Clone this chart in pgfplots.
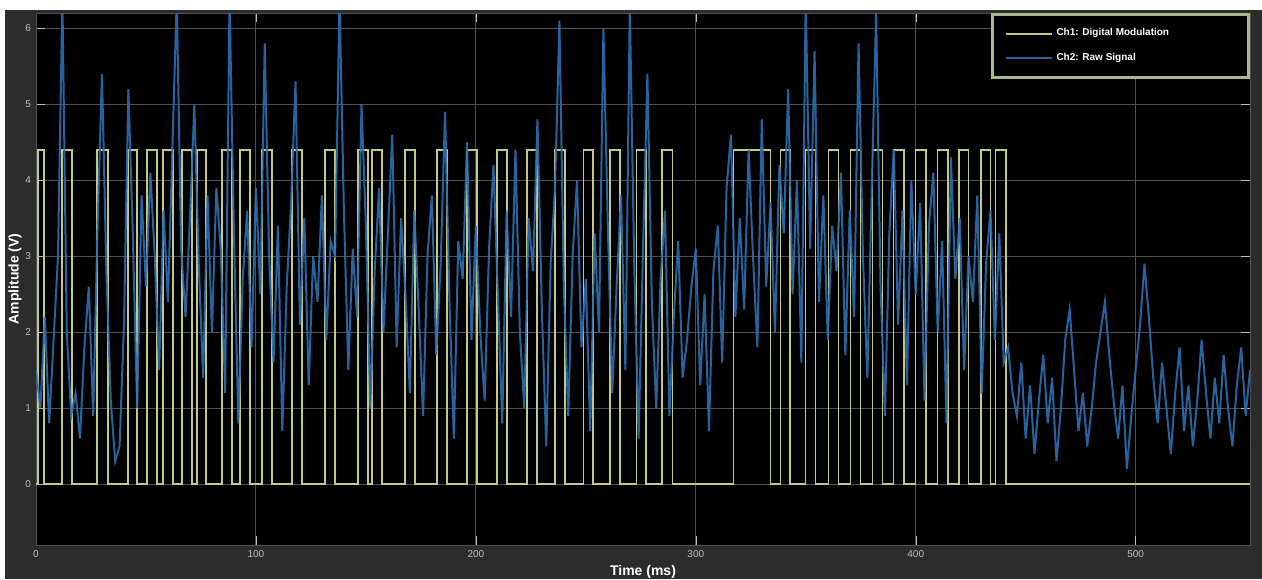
\documentclass[border=0pt]{standalone}
\usepackage{pgfplots}
\pgfplotsset{compat=1.18}
\usepackage{fontspec}
\setmainfont{Liberation Sans}
\definecolor{figbg}{RGB}{44,44,44}
\definecolor{sqc}{RGB}{195,200,135}
\definecolor{bluec}{RGB}{45,110,175}
\definecolor{gridc}{RGB}{80,80,80}
\definecolor{legc}{RGB}{170,185,140}
\definecolor{tickc}{RGB}{190,190,190}
\begin{document}
\begin{tikzpicture}
\useasboundingbox (0,0) rectangle (631pt,289.5pt);
\fill[white] (0,0) rectangle (631pt,289.5pt);
\fill[figbg] (2.5pt,0) rectangle (631pt,284.5pt);
\begin{axis}[
  at={(18pt,17pt)}, anchor=south west,
  width=607pt, height=266pt, scale only axis,
  xmin=0, xmax=552, ymin=-0.8, ymax=6.2,
  xtick={0,100,200,300,400,500}, ytick={0,1,2,3,4,5,6},
  /pgf/number format/assume math mode=true,
  grid=major, major grid style={gridc, line width=0.5pt},
  axis background/.style={fill=black},
  axis line style={gridc},
  tick style={tickc},
  tick label style={font=\tiny, text=tickc},
  xticklabel style={yshift=1pt},
  yticklabel style={xshift=1pt},
  xlabel={Time (ms)}, ylabel={Amplitude (V)},
  every axis x label/.style={at={(axis description cs:0.5,-0.0508)}, anchor=center, font=\scriptsize\bfseries, text=white},
  every axis y label/.style={at={(axis description cs:-0.0173,0.5)}, rotate=90, anchor=center, font=\scriptsize\bfseries, text=white},
  legend style={at={(1,1)}, anchor=north east, fill=black, draw=legc, line width=1.5pt,
    text=white, font=\tiny\bfseries, row sep=3pt, inner ysep=5pt, inner xsep=6pt},
  legend cell align=left,
  legend image code/.code={\draw[#1, line width=1pt] (0cm,0cm) -- (0.8cm,0cm);},
]
\addplot[sqc, line width=0.9pt] coordinates {
(0,0) (0.9,0) (0.9,4.4) (3.6,4.4) (3.6,0)
(11.8,0) (11.8,4.4) (16.4,4.4) (16.4,0)
(27.7,0) (27.7,4.4) (32.8,4.4) (32.8,0)
(41.9,0) (41.9,4.4) (46.0,4.4) (46.0,0)
(50.5,0) (50.5,4.4) (55.0,4.4) (55.0,0)
(57.8,0) (57.8,4.4) (62.3,4.4) (62.3,0)
(66.4,0) (66.4,4.4) (71.0,4.4) (71.0,0)
(73.2,0) (73.2,4.4) (77.3,4.4) (77.3,0)
(84.6,0) (84.6,4.4) (89.2,4.4) (89.2,0)
(92.8,0) (92.8,4.4) (97.4,4.4) (97.4,0)
(102.8,0) (102.8,4.4) (107.4,4.4) (107.4,0)
(116.5,0) (116.5,4.4) (121.0,4.4) (121.0,0)
(131.5,0) (131.5,4.4) (136.0,4.4) (136.0,0)
(146.5,0) (146.5,4.4) (151.0,4.4) (151.0,0)
(152.9,0) (152.9,4.4) (157.4,4.4) (157.4,0)
(167.9,0) (167.9,4.4) (172.4,4.4) (172.4,0)
(182.4,0) (182.4,4.4) (187.0,4.4) (187.0,0)
(196.1,0) (196.1,4.4) (200.6,4.4) (200.6,0)
(209.7,0) (209.7,4.4) (214.3,4.4) (214.3,0)
(223.4,0) (223.4,4.4) (227.9,4.4) (227.9,0)
(236.1,0) (236.1,4.4) (240.7,4.4) (240.7,0)
(248.9,0) (248.9,4.4) (253.4,4.4) (253.4,0)
(261.1,0) (261.1,4.4) (265.7,4.4) (265.7,0)
(273.0,0) (273.0,4.4) (277.5,4.4) (277.5,0)
(284.8,0) (284.8,4.4) (289.4,4.4) (289.4,0)
(317.1,0) (317.1,4.4) (334.0,4.4) (334.0,0)
(338.5,0) (338.5,4.4) (343.0,4.4) (343.0,0)
(349.9,0) (349.9,4.4) (354.4,4.4) (354.4,0)
(360.3,0) (360.3,4.4) (364.9,4.4) (364.9,0)
(370.3,0) (370.3,4.4) (374.9,4.4) (374.9,0)
(380.3,0) (380.3,4.4) (384.9,4.4) (384.9,0)
(389.9,0) (389.9,4.4) (394.5,4.4) (394.5,0)
(399.9,0) (399.9,4.4) (404.5,4.4) (404.5,0)
(409.9,0) (409.9,4.4) (414.5,4.4) (414.5,0)
(419.5,0) (419.5,4.4) (424.0,4.4) (424.0,0)
(429.5,0) (429.5,4.4) (434.0,4.4) (434.0,0)
(436.3,0) (436.3,4.4) (440.9,4.4) (440.9,0)
(552,0)
};
\addlegendentry{\makebox[88pt][l]{Ch1: Digital Modulation}}
\addplot[bluec, line width=1pt, opacity=0.9] coordinates {
(0,1.5) (2,1.0) (4,2.2) (6,0.8) (8,1.9) (10,3.0) (12,6.4) (14,2.0) (16,0.9) (18,1.2)
(20,0.6) (22,1.8) (24,2.6) (26,0.9) (28,3.4) (30,5.4) (32,2.8) (34,1.1) (36,0.3) (38,0.5)
(40,2.1) (42,5.2) (44,3.3) (46,1.0) (48,3.8) (50,2.6) (52,4.1) (54,3.0) (56,1.5) (58,3.6)
(60,2.4) (62,4.4) (64,6.4) (66,3.1) (68,2.2) (70,3.5) (72,5.0) (74,2.9) (76,1.4) (78,3.8)
(80,2.0) (82,3.9) (84,3.1) (86,1.2) (88,6.4) (90,3.3) (92,0.8) (94,2.7) (96,3.6) (98,1.8)
(100,3.9) (102,2.5) (104,5.8) (106,3.0) (108,1.6) (110,3.4) (112,0.7) (114,2.6) (116,3.7) (118,5.3)
(120,2.1) (122,3.5) (124,1.3) (126,3.0) (128,2.4) (130,3.8) (132,1.9) (134,3.2) (136,3.0) (138,6.4)
(140,3.6) (142,1.5) (144,3.1) (146,2.2) (148,5.0) (150,3.4) (152,1.0) (154,2.8) (156,3.9) (158,2.0)
(160,3.3) (162,4.6) (164,1.8) (166,3.5) (168,2.5) (170,1.2) (172,3.6) (174,2.3) (176,0.9) (178,3.0)
(180,3.8) (182,1.7) (184,2.9) (186,4.9) (188,2.4) (190,0.6) (192,3.2) (194,2.7) (196,4.5) (198,1.9)
(200,3.4) (202,2.0) (204,1.1) (206,3.1) (208,4.2) (210,2.5) (212,0.8) (214,3.6) (216,2.2) (218,4.4)
(220,2.0) (222,1.0) (224,3.5) (226,2.8) (228,4.8) (230,2.3) (232,0.5) (234,2.9) (236,3.9) (238,6.1)
(240,2.6) (242,0.9) (244,3.0) (246,4.0) (248,1.8) (250,2.7) (252,0.7) (254,3.3) (256,2.0) (258,6.0)
(260,3.4) (262,1.2) (264,2.6) (266,3.8) (268,1.5) (270,6.3) (272,2.9) (274,0.6) (276,3.1) (278,5.4)
(280,2.4) (282,1.0) (284,2.7) (286,3.6) (288,0.9) (290,2.2) (292,3.2) (294,1.4) (296,1.9) (298,2.6)
(300,3.1) (302,1.3) (304,2.5) (306,0.7) (308,2.8) (310,3.4) (312,1.6) (314,3.9) (316,4.6) (318,2.2)
(320,3.5) (322,2.3) (324,4.4) (326,3.0) (328,1.8) (330,4.8) (332,2.6) (334,3.7) (336,2.0) (338,4.2)
(340,3.3) (342,5.2) (344,2.5) (346,4.0) (348,1.6) (350,6.4) (352,3.1) (354,5.7) (356,2.4) (358,3.8)
(360,1.9) (362,3.4) (364,2.8) (366,4.1) (368,1.7) (370,3.6) (372,2.2) (374,5.8) (376,3.0) (378,1.4)
(380,3.9) (382,6.2) (384,2.6) (386,0.9) (388,3.3) (390,4.4) (392,2.1) (394,3.6) (396,1.3) (398,4.0)
(400,2.5) (402,3.7) (404,1.1) (406,3.4) (408,4.1) (410,2.0) (412,3.2) (414,0.8) (416,4.3) (418,2.7)
(420,3.5) (422,1.5) (424,3.0) (426,2.4) (428,3.8) (430,1.2) (432,2.9) (434,3.6) (436,1.9) (438,3.3) (440,1.6)
(442,1.8) (444,1.2) (446,0.9) (448,1.6) (450,0.6) (452,1.3) (454,0.4) (456,1.1) (458,1.7) (460,0.8)
(462,1.4) (464,0.3) (466,1.0) (468,1.9) (470,2.3) (472,1.5) (474,0.7) (476,1.2) (478,0.5) (480,1.0)
(482,1.6) (484,2.0) (486,2.4) (488,1.7) (490,1.1) (492,0.6) (494,1.3) (496,0.2) (498,0.9) (500,1.5)
(502,2.1) (504,2.9) (506,2.2) (508,1.4) (510,0.8) (512,1.6) (514,1.0) (516,0.4) (518,1.2) (520,1.8)
(522,0.7) (524,1.3) (526,0.5) (528,1.1) (530,1.9) (532,1.2) (534,0.6) (536,1.4) (538,0.8) (540,1.7)
(542,1.0) (544,0.5) (546,1.3) (548,1.8) (550,0.9) (552,1.5)
};
\addlegendentry{Ch2: Raw Signal}
\end{axis}
\end{tikzpicture}
\end{document}
